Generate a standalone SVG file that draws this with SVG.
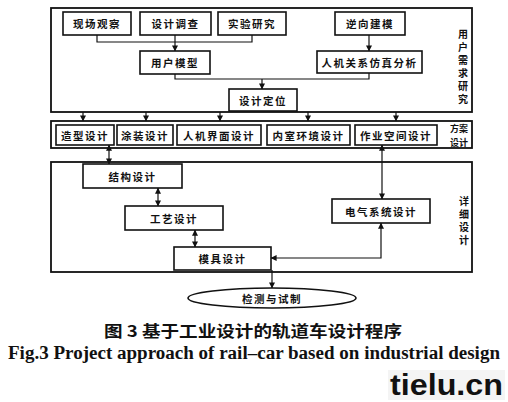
<svg xmlns="http://www.w3.org/2000/svg" width="508" height="402" viewBox="0 0 508 402">
<defs>
<marker id="ah" viewBox="0 0 8 8" refX="7.5" refY="4" markerWidth="6" markerHeight="6" orient="auto-start-reverse" markerUnits="userSpaceOnUse">
<path d="M0,0 L8,4 L0,8 z" fill="#111"/>
</marker>
<style>
.frame{fill:none;stroke:#111;stroke-width:1.8}
.box{fill:#fff;stroke:#111;stroke-width:1.6}
.t{font-family:"Noto Sans CJK SC","Liberation Sans",sans-serif;font-size:10.5px;font-weight:bold;fill:#111;text-anchor:middle;dominant-baseline:central;letter-spacing:1.5px}
.side{font-family:"Noto Sans CJK SC","Liberation Sans",sans-serif;font-size:9px;font-weight:bold;fill:#111;text-anchor:middle;dominant-baseline:central}
.vert{font-family:"Noto Sans CJK SC","Liberation Sans",sans-serif;font-size:10px;font-weight:bold;fill:#111;writing-mode:vertical-rl;letter-spacing:3px;dominant-baseline:central}
.c{fill:none;stroke:#111;stroke-width:1.2}
.a{fill:none;stroke:#111;stroke-width:1.2;marker-end:url(#ah)}
.aa{fill:none;stroke:#111;stroke-width:1.2;marker-end:url(#ah);marker-start:url(#ah)}
</style>
</defs>
<rect width="508" height="402" fill="#fff"/>

<g id="frame-user">
<rect class="frame" x="51" y="8" width="421" height="104"/>
<text class="vert" x="463" y="29">用户需求研究</text>
</g>
<g id="frame-scheme">
<rect class="frame" x="51" y="121" width="421" height="27"/>
<text class="side"><tspan x="459" y="128">方案</tspan><tspan x="459" y="141.5">设计</tspan></text>
</g>
<g id="frame-detail">
<rect class="frame" x="51" y="162" width="421" height="110"/>
<text class="vert" x="464" y="196">详细设计</text>
</g>

<g id="connectors">
<polyline class="c" points="97,35 97,42 252,42 252,35"/>
<line class="a" x1="175" y1="35" x2="175" y2="51"/>
<line class="a" x1="369" y1="35" x2="369" y2="51"/>
<polyline class="c" points="175,74 175,79 369,79 369,73"/>
<line class="a" x1="262" y1="79" x2="262" y2="89"/>
<line class="a" x1="83" y1="112" x2="83" y2="121"/>
<line class="a" x1="146" y1="112" x2="146" y2="121"/>
<line class="a" x1="220" y1="112" x2="220" y2="121"/>
<line class="a" x1="308" y1="112" x2="308" y2="121"/>
<line class="a" x1="396" y1="112" x2="396" y2="121"/>
<line class="aa" x1="109" y1="145" x2="109" y2="164"/>
<line class="aa" x1="382" y1="145" x2="382" y2="199"/>
<line class="aa" x1="158" y1="188" x2="158" y2="206"/>
<line class="aa" x1="195" y1="230" x2="195" y2="247"/>
<polyline class="aa" points="271,258 381,258 381,223"/>
<line class="a" x1="272" y1="270" x2="272" y2="288"/>
</g>

<g id="n-xianchang"><rect class="box" x="63" y="12" width="68" height="23"/><text class="t" x="97" y="23.5">现场观察</text></g>
<g id="n-diaocha"><rect class="box" x="140" y="12" width="71" height="23"/><text class="t" x="175.5" y="23.5">设计调查</text></g>
<g id="n-shiyan"><rect class="box" x="218" y="12" width="68" height="23"/><text class="t" x="252" y="23.5">实验研究</text></g>
<g id="n-nixiang"><rect class="box" x="335" y="12" width="70" height="23"/><text class="t" x="370" y="23.5">逆向建模</text></g>
<g id="n-yonghu"><rect class="box" x="140" y="51" width="70" height="23"/><text class="t" x="175" y="62.5">用户模型</text></g>
<g id="n-renji"><rect class="box" x="317" y="51" width="105" height="22"/><text class="t" x="369.5" y="62">人机关系仿真分析</text></g>
<g id="n-dingwei"><rect class="box" x="229" y="89" width="68" height="22"/><text class="t" x="263" y="100">设计定位</text></g>

<g id="n-zaoxing"><rect class="box" x="56" y="125" width="58" height="20"/><text class="t" x="85" y="135">造型设计</text></g>
<g id="n-tuzhuang"><rect class="box" x="117" y="125" width="56" height="20"/><text class="t" x="145" y="135">涂装设计</text></g>
<g id="n-jiemian"><rect class="box" x="177" y="125" width="84" height="20"/><text class="t" x="219" y="135">人机界面设计</text></g>
<g id="n-neishi"><rect class="box" x="267" y="125" width="83" height="20"/><text class="t" x="308.5" y="135">内室环境设计</text></g>
<g id="n-zuoye"><rect class="box" x="355" y="125" width="82" height="20"/><text class="t" x="396" y="135">作业空间设计</text></g>

<g id="n-jiegou"><rect class="box" x="83" y="164" width="99" height="24"/><text class="t" x="132.5" y="176">结构设计</text></g>
<g id="n-gongyi"><rect class="box" x="125" y="206" width="98" height="24"/><text class="t" x="174" y="218">工艺设计</text></g>
<g id="n-muju"><rect class="box" x="174" y="247" width="97" height="23"/><text class="t" x="222.5" y="258.5">模具设计</text></g>
<g id="n-dianqi"><rect class="box" x="332" y="199" width="98" height="24"/><text class="t" x="381" y="211">电气系统设计</text></g>
<g id="n-jiance"><ellipse class="box" cx="272" cy="298" rx="84" ry="10"/><text class="t" x="272" y="298">检测与试制</text></g>

<text x="253" y="330" font-family="Noto Sans CJK SC, Liberation Sans, sans-serif" font-size="16" font-weight="bold" text-anchor="middle" dominant-baseline="central" fill="#111" textLength="298" lengthAdjust="spacingAndGlyphs">图 3  基于工业设计的轨道车设计程序</text>
<text x="8" y="359" font-family="Liberation Serif, serif" font-size="18" font-weight="bold" fill="#111" textLength="492" lengthAdjust="spacingAndGlyphs">Fig.3  Project approach of rail–car based on industrial design</text>
<rect x="388" y="370" width="117" height="30" fill="#f4f4f4"/>
<text x="390" y="395" font-family="Liberation Sans, Arial, sans-serif" font-size="29" font-weight="bold" fill="#111" textLength="113" lengthAdjust="spacingAndGlyphs">tielu.cn</text>
</svg>
